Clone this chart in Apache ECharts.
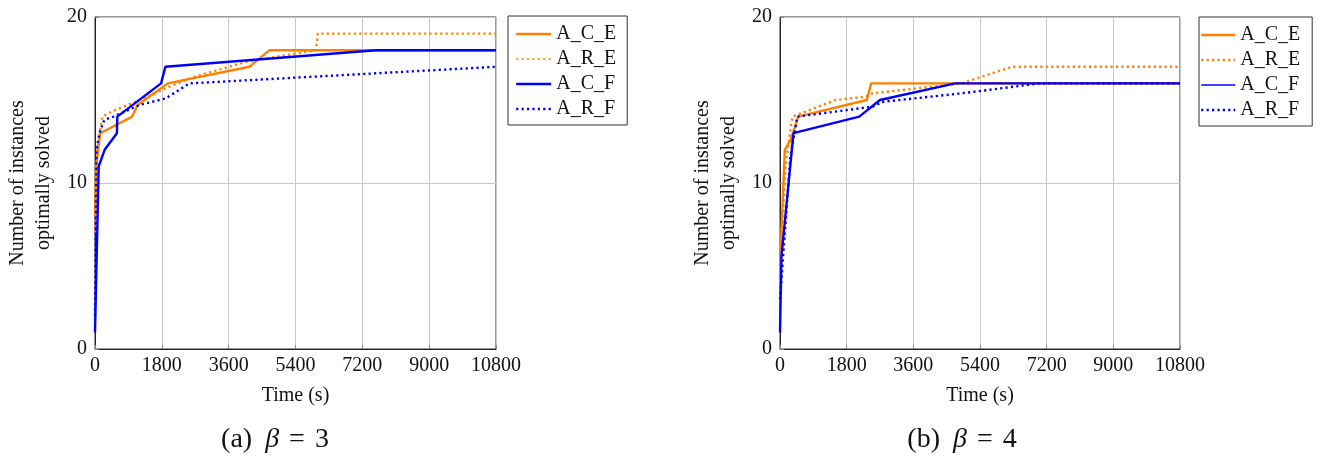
<!DOCTYPE html>
<html>
<head>
<meta charset="utf-8">
<script src="https://cdn.jsdelivr.net/npm/echarts@6/dist/echarts.min.js"></script>
<style>
html,body{margin:0;padding:0;background:#fff;}
#c{width:1325px;height:461px;}
</style>
</head>
<body>
<div id="c"></div>
<script>
// ---- data ----
const seriesNames = ['A_C_E', 'A_R_E', 'A_C_F', 'A_R_F'];
const xTicks = [0, 1800, 3600, 5400, 7200, 9000, 10800];
const yTicks = [0, 10, 20];

// beta = 3
const t_ACE_3 = [0, 30, 140, 1000, 1150, 1960, 4160, 4700, 10800];
const v_ACE_3 = [8, 11, 13, 14, 14.7, 16, 17, 18, 18];
const t_ARE_3 = [0, 60, 200, 450, 1200, 2000, 2680, 4070, 5950, 6000, 10800];
const v_ARE_3 = [7, 12, 14, 14.3, 15, 15.8, 16.4, 17.3, 18, 19, 19];
const t_ACF_3 = [0, 100, 260, 590, 600, 1780, 1895, 7570, 10800];
const v_ACF_3 = [1, 11, 12, 13, 14, 16, 17, 18, 18];
const t_ARF_3 = [0, 40, 120, 250, 500, 1200, 1910, 2540, 10800];
const v_ARF_3 = [2, 12, 13, 13.8, 14, 14.7, 15.1, 16, 17];

// beta = 4
const t_ACE_4 = [0, 130, 290, 490, 2345, 2460, 10800];
const v_ACE_4 = [5, 12, 12.6, 14, 15, 16, 16];
const t_ARE_4 = [0, 150, 300, 340, 1500, 2300, 2500, 4900, 6260, 10800];
const v_ARE_4 = [5, 11, 13.5, 14, 15, 15.2, 15.4, 16, 17, 17];
const t_ACF_4 = [0, 40, 364, 2140, 2700, 4730, 10800];
const v_ACF_4 = [1, 5.6, 13, 14, 15, 16, 16];
const t_ARF_4 = [0, 280, 470, 2500, 2800, 4900, 7000, 10800];
const v_ARF_4 = [3, 11.6, 14, 14.6, 14.9, 15.4, 16, 16];

// ---- styling ----
const ORANGE = '#ff8000';
const BLUE = '#0000ff';
const FONT = 'Liberation Serif';
const DOT = [2.2, 3.2];
const LW = 2.4;

function zip(t, v) { return t.map((x, i) => [x, v[i]]); }

function mkSeries(name, t, v, color, dotted, idx) {
  return {
    name: name, type: 'line', xAxisIndex: idx, yAxisIndex: idx,
    data: zip(t, v), symbol: 'none', showSymbol: false, animation: false,
    lineStyle: { color: color, width: LW, type: dotted ? DOT : 'solid', cap: 'butt' },
    itemStyle: { color: color }
  };
}

function mkX(idx) {
  return {
    type: 'value', gridIndex: idx, min: 0, max: 10800, interval: 1800,
    name: 'Time (s)', nameLocation: 'middle', nameGap: 37,
    nameTextStyle: { fontFamily: FONT, fontSize: 20, color: '#111' },
    axisLine: { show: true, lineStyle: { color: '#222', width: 1 } },
    axisTick: { show: true, inside: true, length: 4, lineStyle: { color: '#888' } },
    axisLabel: { fontFamily: FONT, fontSize: 20, color: '#111', margin: 7,
      formatter: v => String(v) },
    splitLine: { show: true, lineStyle: { color: '#c8c8c8', width: 1 } }
  };
}
function mkY(idx) {
  return {
    type: 'value', gridIndex: idx, min: 0, max: 20, interval: 10,
    name: 'Number of instances\noptimally solved', nameLocation: 'middle', nameGap: 38,
    nameRotate: 90,
    nameTextStyle: { fontFamily: FONT, fontSize: 20, color: '#111', lineHeight: 26 },
    axisLine: { show: true, lineStyle: { color: '#222', width: 1 } },
    axisTick: { show: true, inside: true, length: 4, lineStyle: { color: '#888' } },
    axisLabel: { fontFamily: FONT, fontSize: 20, color: '#111', margin: 8,
      formatter: v => String(v) },
    splitLine: { show: true, lineStyle: { color: '#c8c8c8', width: 1 } }
  };
}

function legendData(thinNames) {
  const colors = [ORANGE, ORANGE, BLUE, BLUE];
  const dotted = [false, true, false, true];
  return seriesNames.map((n, i) => ({
    name: n,
    itemStyle: { opacity: 0 },
    lineStyle: { color: colors[i], width: thinNames.includes(n) ? 1.4 : 2.4, type: dotted[i] ? DOT : 'solid' }
  }));
}

function caption(letter, beta, x) {
  return {
    type: 'text', x: x, y: 440,
    style: {
      text: '{n|(' + letter + ')}{b|β}{e|=}{n|' + beta + '}', align: 'center', verticalAlign: 'middle',
      rich: {
        n: { fontFamily: FONT, fontSize: 28, fill: '#111' },
        b: { fontFamily: FONT, fontSize: 28, fontStyle: 'italic', fill: '#111', padding: [0, 0, 0, 13] },
        e: { fontFamily: FONT, fontSize: 28, fill: '#111', padding: [0, 10, 0, 10] }
      }
    }
  };
}

const chart = echarts.init(document.getElementById('c'), null, { renderer: 'canvas' });
chart.setOption({
  animation: false,
  backgroundColor: '#fff',
  grid: [
    { left: 95, top: 17, width: 401, height: 332, show: true, borderColor: '#333', borderWidth: 1, backgroundColor: 'transparent' },
    { left: 780, top: 17, width: 400, height: 332, show: true, borderColor: '#333', borderWidth: 1, backgroundColor: 'transparent' }
  ],
  xAxis: [mkX(0), mkX(1)],
  yAxis: [mkY(0), mkY(1)],
  legend: [
    {
      left: 508, top: 16, orient: 'vertical', itemWidth: 35, itemHeight: 14, itemGap: 5, itemTextGap: 7,
      padding: [8, 11, 6, 7], borderColor: '#333', borderWidth: 1, selectedMode: false,
      itemStyle: { opacity: 0 },
      textStyle: { fontFamily: FONT, fontSize: 20, color: '#111' },
      data: legendData(['A_R_E'])
    },
    {
      left: 1199, top: 17, orient: 'vertical', itemWidth: 34, itemHeight: 14, itemGap: 5, itemTextGap: 7,
      padding: [8, 12, 6, 1], borderColor: '#333', borderWidth: 1, selectedMode: false,
      itemStyle: { opacity: 0 },
      textStyle: { fontFamily: FONT, fontSize: 20, color: '#111' },
      data: legendData(['A_C_F'])
    }
  ],
  series: [
    mkSeries('A_C_E', t_ACE_3, v_ACE_3, ORANGE, false, 0),
    mkSeries('A_R_E', t_ARE_3, v_ARE_3, ORANGE, true, 0),
    mkSeries('A_C_F', t_ACF_3, v_ACF_3, BLUE, false, 0),
    mkSeries('A_R_F', t_ARF_3, v_ARF_3, BLUE, true, 0),
    mkSeries('A_C_E', t_ACE_4, v_ACE_4, ORANGE, false, 1),
    mkSeries('A_R_E', t_ARE_4, v_ARE_4, ORANGE, true, 1),
    mkSeries('A_C_F', t_ACF_4, v_ACF_4, BLUE, false, 1),
    mkSeries('A_R_F', t_ARF_4, v_ARF_4, BLUE, true, 1)
  ],
  graphic: [
    caption('a', 3, 275),
    caption('b', 4, 962)
  ]
});
</script>
</body>
</html>
